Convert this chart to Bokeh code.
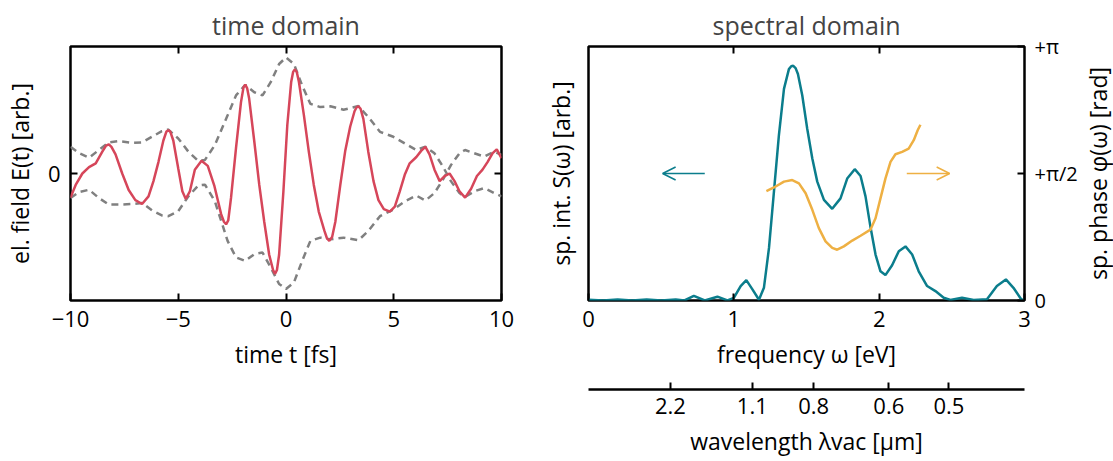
from bokeh.plotting import figure
from bokeh.models import (LinearAxis, Range1d, FixedTicker, Arrow, OpenHead,
                          CustomJSTickFormatter)
from bokeh.layouts import row
from bokeh.embed import file_html
from bokeh.resources import INLINE

# ---------------- data ----------------
# time domain: electric field
t_fs = [-10, -9.76, -9.45, -9.14, -8.83, -8.53, -8.35, -8.22, -8.1, -7.91, -7.6, -7.3,
        -6.99, -6.68, -6.38, -6.15, -5.92, -5.69, -5.55, -5.46, -5.37, -5.23, -5.0, -4.81,
        -4.65, -4.46, -4.23, -3.92, -3.63, -3.32, -3.01, -2.88, -2.78, -2.68, -2.55, -2.32,
        -2.09, -1.97, -1.89, -1.80, -1.71, -1.47, -1.24, -1.01, -0.78, -0.60, -0.51, -0.42,
        -0.32, -0.12, 0.06, 0.24, 0.33, 0.41, 0.50, 0.6, 0.83, 1.06, 1.29, 1.52, 1.78, 1.90,
        2.01, 2.14, 2.29, 2.52, 2.75, 2.98, 3.18, 3.27, 3.36, 3.46, 3.59, 3.82, 4.06, 4.29,
        4.54, 4.82, 5.05, 5.28, 5.51, 5.74, 6.05, 6.28, 6.47, 6.66,
        6.89, 7.13, 7.36, 7.59, 7.82, 8.05, 8.31, 8.59, 8.86, 9.12,
        9.35, 9.59, 9.78, 10.0]
field = [-0.19, -0.09, 0.0, 0.05, 0.08, 0.17, 0.22, 0.23, 0.21, 0.15, 0.0, -0.13,
         -0.21, -0.24, -0.18, -0.06, 0.09, 0.26, 0.33, 0.34, 0.33, 0.26, 0.04, -0.14,
         -0.2, -0.14, 0.03, 0.1, 0.06, -0.1, -0.32, -0.38, -0.4, -0.37, -0.19, 0.2,
         0.56, 0.68, 0.70, 0.67, 0.59, 0.25, -0.09, -0.38, -0.64, -0.76, -0.79, -0.76,
         -0.64, -0.14, 0.38, 0.72, 0.80, 0.82, 0.80, 0.72, 0.46, 0.17, -0.09, -0.30, -0.45, -0.51,
         -0.53, -0.50, -0.38, -0.09, 0.18, 0.37, 0.49, 0.52, 0.53, 0.51, 0.43, 0.17, -0.06, -0.21,
         -0.28, -0.30, -0.26, -0.14, -0.01, 0.08, 0.13, 0.18, 0.21, 0.15,
         0.03, -0.06, -0.02, 0.0, -0.06, -0.14, -0.19, -0.12, -0.02, 0.03,
         0.09, 0.16, 0.19, 0.12]

# time domain: dashed envelopes
env_t = [-10, -9.6, -9.14, -8.68, -8.22, -7.76, -7.14, -6.68, -6.22, -5.76,
         -5.46, -5.0, -4.53, -4.07, -3.76, -3.3, -2.71, -2.32, -1.89, -1.47,
         -1.09, -0.71, -0.32, 0.0, 0.37, 0.75, 1.13, 1.59, 2.06, 2.67,
         3.36, 3.82, 4.36, 4.98, 5.51, 6.05, 6.47, 6.89, 7.28, 7.66,
         8.05, 8.31, 8.74, 9.2, 9.66, 10.0]
env_upper = [0.21, 0.16, 0.125, 0.185, 0.245, 0.255, 0.242, 0.245, 0.289, 0.333,
             0.346, 0.276, 0.172, 0.099, 0.107, 0.224, 0.458, 0.615, 0.698, 0.64,
             0.615, 0.719, 0.862, 0.914, 0.862, 0.693, 0.549, 0.523, 0.529, 0.502,
             0.531, 0.445, 0.328, 0.289, 0.237, 0.185, 0.211, 0.159, 0.055, -0.062,
             -0.154, -0.185, -0.14, -0.115, -0.154, -0.18]
env_lower = [-0.193, -0.146, -0.128, -0.193, -0.245, -0.245, -0.24, -0.232, -0.29, -0.33,
             -0.336, -0.297, -0.18, -0.094, -0.088, -0.219, -0.531, -0.66, -0.688, -0.635,
             -0.622, -0.74, -0.87, -0.909, -0.857, -0.688, -0.531, -0.505, -0.518, -0.505,
             -0.526, -0.453, -0.336, -0.284, -0.219, -0.174, -0.213, -0.154, -0.049, 0.068,
             0.159, 0.185, 0.159, 0.133, 0.172, 0.146]

# spectral domain: spectral intensity
omega_s = [0.0, 0.1, 0.2, 0.3, 0.4, 0.5, 0.6, 0.66, 0.725, 0.8,
           0.887, 0.956, 1.0, 1.047, 1.086, 1.128, 1.173, 1.207, 1.242, 1.276,
           1.31, 1.345, 1.379, 1.395, 1.409, 1.425, 1.441, 1.471, 1.505, 1.54, 1.574, 1.62,
           1.677, 1.734, 1.78, 1.832, 1.872, 1.906, 1.94, 1.975, 2.009, 2.043,
           2.089, 2.135, 2.181, 2.227, 2.272, 2.33, 2.387, 2.444, 2.49, 2.57,
           2.65, 2.742, 2.81, 2.872, 2.924, 2.977, 3.0]
spec_int = [0.003, 0.0, 0.004, 0.0, 0.004, 0.0, 0.004, 0.0, 0.018, 0.0,
            0.015, 0.0, 0.01, 0.057, 0.08, 0.044, 0.003, 0.05, 0.207, 0.429,
            0.65, 0.833, 0.911, 0.922, 0.924, 0.915, 0.892, 0.807, 0.676, 0.559, 0.468, 0.396,
            0.361, 0.402, 0.48, 0.517, 0.49, 0.41, 0.29, 0.181, 0.115, 0.1,
            0.139, 0.194, 0.213, 0.181, 0.115, 0.057, 0.037, 0.011, 0.002, 0.011,
            0.002, 0.005, 0.057, 0.083, 0.05, 0.005, 0.0]

# spectral domain: spectral phase (in units of pi)
omega_p = [1.224, 1.276, 1.345, 1.402, 1.448, 1.494, 1.54, 1.585, 1.631, 1.677,
           1.711, 1.757, 1.815, 1.872, 1.94, 1.975, 2.009, 2.043, 2.078, 2.112,
           2.158, 2.203, 2.238, 2.265, 2.284]
phase_pi = [0.431, 0.445, 0.468, 0.474, 0.461, 0.422, 0.357, 0.285, 0.233, 0.207,
            0.2, 0.213, 0.236, 0.255, 0.279, 0.324, 0.402, 0.48, 0.546, 0.576,
            0.585, 0.598, 0.631, 0.67, 0.692]

# tick labels
time_ticks = [-10, -5, 0, 5, 10]
time_tick_labels = ["\u221210", "\u22125", "0", "5", "10"]
freq_ticks = [0, 1, 2, 3]
phase_ticks = [0, 0.5, 1]
phase_tick_labels = ["0", "+\u03c0/2", "+\u03c0"]
wl_um = [2.2, 1.1, 0.8, 0.6, 0.5]
wl_tick_labels = ["2.2", "1.1", "0.8", "0.6", "0.5"]
HC_EV_UM = 1.23984  # photon energy (eV) times wavelength (um)

# ---------------- style ----------------
FONT = "Open Sans"
RED = "#d6465a"
TEAL = "#0b7d8c"
ORANGE = "#eeb043"
GRAY = "#808080"
TICK_FS = "22px"
LABEL_FS = "23px"
TITLE_FS = "25px"


def style_axis(ax, ticks, show_labels=True, label=None):
    ax.ticker = FixedTicker(ticks=ticks)
    ax.major_tick_in = 7
    ax.major_tick_out = 0
    ax.major_tick_line_width = 2
    ax.major_tick_line_color = "black"
    ax.minor_tick_line_color = None
    ax.axis_line_color = None
    ax.major_label_text_font = FONT
    ax.major_label_text_font_size = TICK_FS
    ax.major_label_text_color = "black" if show_labels else None
    ax.major_label_standoff = 10
    if label is not None:
        ax.axis_label = label
        ax.axis_label_text_font = FONT
        ax.axis_label_text_font_size = LABEL_FS
        ax.axis_label_text_font_style = "normal"
        ax.axis_label_text_color = "black"
        ax.axis_label_standoff = 8


def base_fig(title, width, x_range, border_left, border_right):
    p = figure(width=width, height=461, x_range=x_range, y_range=Range1d(-1, 1),
               output_backend="svg", toolbar_location=None, title=title,
               min_border_left=border_left, min_border_right=border_right,
               min_border_top=44, min_border_bottom=161)
    p.grid.visible = False
    p.outline_line_color = "black"
    p.outline_line_width = 2.5
    p.outline_line_alpha = 1.0
    p.title.align = "center"
    p.title.text_font = FONT
    p.title.text_font_size = TITLE_FS
    p.title.text_font_style = "normal"
    p.title.standoff = 10
    p.background_fill_color = "white"
    p.border_fill_color = "white"
    return p


# ---------------- time domain ----------------
p1 = base_fig("time domain", 520, Range1d(-10, 10), 67, 19)
p1.line(env_t, env_upper, line_color=GRAY, line_width=2.5, line_dash="7 5")
p1.line(env_t, env_lower, line_color=GRAY, line_width=2.5, line_dash="7 5")
p1.line(t_fs, field, line_color=RED, line_width=2.5)

style_axis(p1.xaxis[0], time_ticks, label="time t [fs]")
p1.xaxis[0].major_label_overrides = dict(zip(time_ticks, time_tick_labels))
style_axis(p1.yaxis[0], [0], label="el. field E(t) [arb.]")
p1.yaxis[0].axis_label_standoff = 9
ax_top1 = LinearAxis()
style_axis(ax_top1, [-5, 0, 5], show_labels=False)
p1.add_layout(ax_top1, "above")
ax_right1 = LinearAxis()
style_axis(ax_right1, [0], show_labels=False)
p1.add_layout(ax_right1, "right")

# ---------------- spectral domain ----------------
p2 = base_fig("spectral domain", 562, Range1d(0, 3), 68, 58)
p2.y_range = Range1d(0, 1)
p2.extra_y_ranges = {"phase": Range1d(0, 1)}

p2.line(omega_s, spec_int, line_color=TEAL, line_width=2.5)
p2.line(omega_p, phase_pi, line_color=ORANGE, line_width=2.5, y_range_name="phase")

p2.add_layout(Arrow(end=OpenHead(size=13, line_color=TEAL, line_width=1.5),
                    x_start=0.80, y_start=0.5, x_end=0.51, y_end=0.5,
                    line_color=TEAL, line_width=1.5, y_range_name="phase"))
p2.add_layout(Arrow(end=OpenHead(size=13, line_color=ORANGE, line_width=1.5),
                    x_start=2.19, y_start=0.5, x_end=2.485, y_end=0.5,
                    line_color=ORANGE, line_width=1.5, y_range_name="phase"))

style_axis(p2.xaxis[0], freq_ticks, label="frequency \u03c9 [eV]")
style_axis(p2.yaxis[0], [], show_labels=False, label="sp. int. S(\u03c9) [arb.]")
p2.yaxis[0].axis_label_standoff = 12

ax_top2 = LinearAxis()
style_axis(ax_top2, [1, 2], show_labels=False)
p2.add_layout(ax_top2, "above")

ax_phase = LinearAxis(y_range_name="phase")
style_axis(ax_phase, phase_ticks)
ax_phase.major_label_overrides = dict(zip(phase_ticks, phase_tick_labels))
ax_phase.major_label_text_font_size = "20px"
ax_phase.major_label_standoff = 10
p2.add_layout(ax_phase, "right")

# invisible spacer between frequency axis and wavelength axis
spacer = LinearAxis(ticker=FixedTicker(ticks=[1.5]), major_tick_out=17, major_tick_in=0,
                    major_tick_line_color=None, minor_tick_line_color=None,
                    axis_line_color=None, major_label_text_color=None)
p2.add_layout(spacer, "below")

wl_pos = [HC_EV_UM / w for w in wl_um]
ax_wl = LinearAxis()
style_axis(ax_wl, wl_pos, label="wavelength \u03bbvac [\u03bcm]")
ax_wl.axis_line_color = "black"
ax_wl.axis_line_width = 2.5
ax_wl.major_label_standoff = 8
ax_wl.formatter = CustomJSTickFormatter(
    args=dict(pos=wl_pos, lab=wl_tick_labels),
    code="""
    let b = 0;
    for (let i = 0; i < pos.length; i++) {
        if (Math.abs(pos[i] - tick) < Math.abs(pos[b] - tick)) { b = i; }
    }
    return lab[b];
    """)
p2.add_layout(ax_wl, "below")

# narrow strip carrying the phase-axis title (reads bottom to top, as in the reference)
p3 = figure(width=31, height=461, x_range=Range1d(0, 1), y_range=Range1d(0, 1),
            output_backend="svg", toolbar_location=None, x_axis_location=None,
            min_border_left=30, min_border_right=0, min_border_top=44, min_border_bottom=161)
p3.grid.visible = False
p3.outline_line_color = None
p3.background_fill_color = "white"
p3.border_fill_color = "white"
style_axis(p3.yaxis[0], [], show_labels=False, label="sp. phase \u03c6(\u03c9) [rad]")
p3.yaxis[0].axis_label_standoff = 0

layout = row(p1, p2, p3)
open("out.html", "w").write(file_html(layout, INLINE))
